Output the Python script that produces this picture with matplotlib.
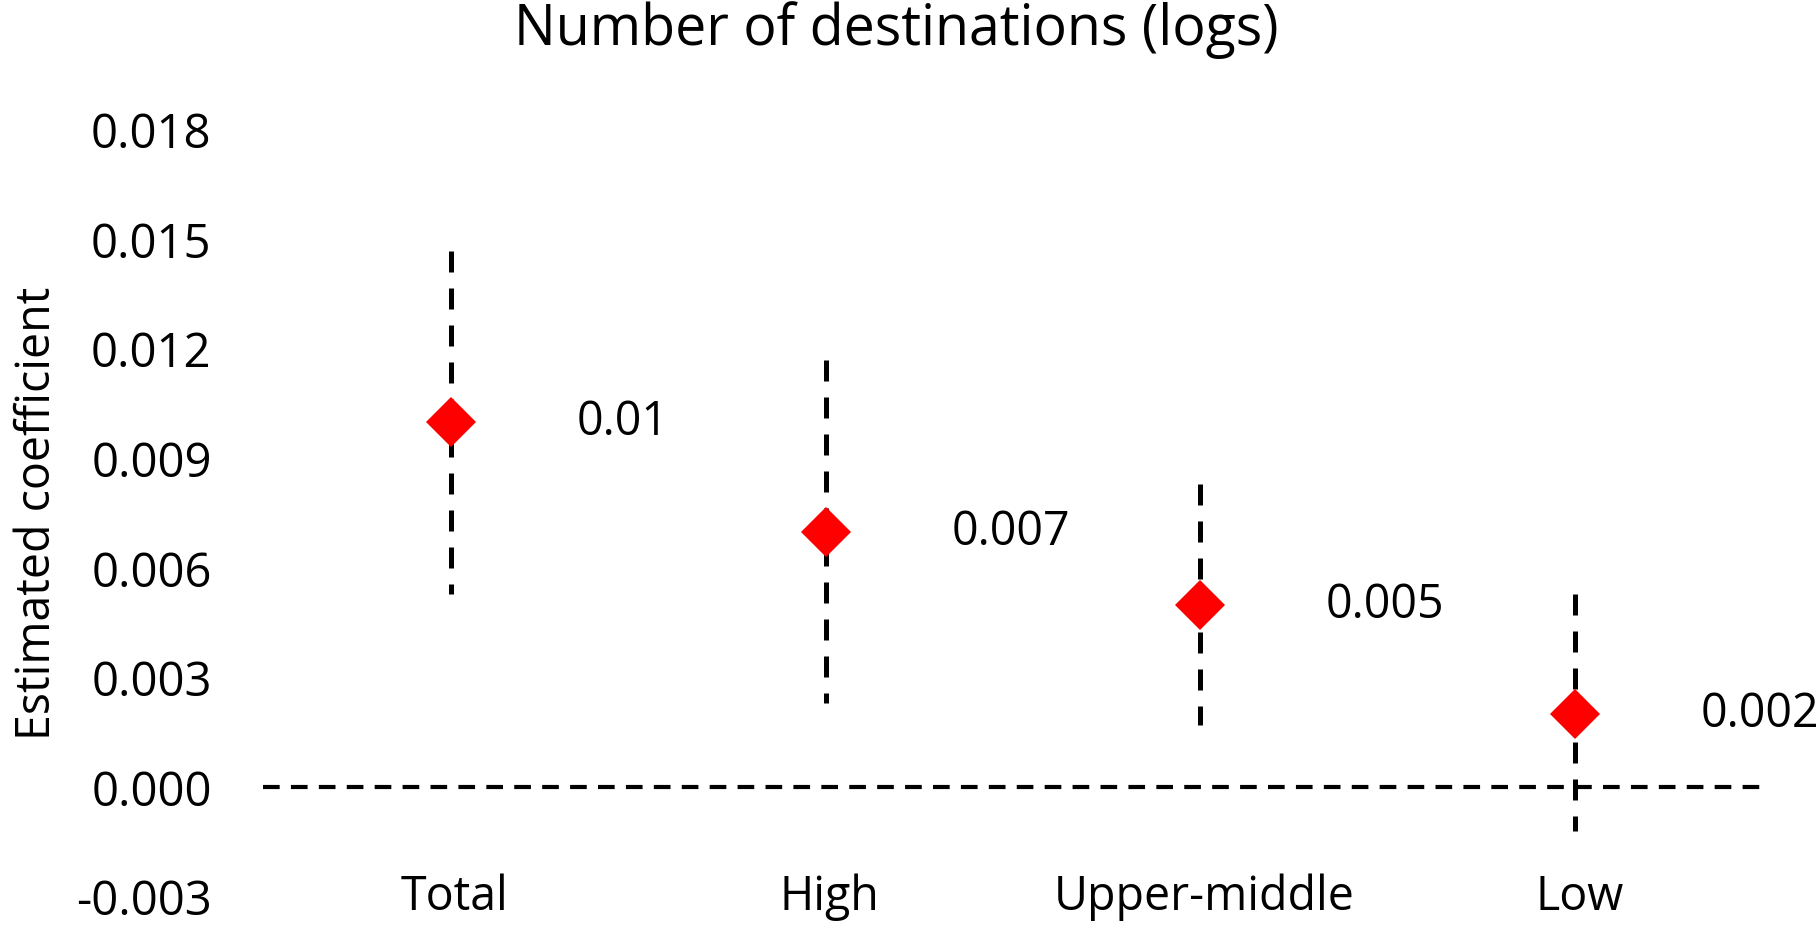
import matplotlib
matplotlib.use("Agg")
import matplotlib.pyplot as plt

# Regression estimates by income group
categories = ["Total", "High", "Upper-middle", "Low"]
coefficients = [0.010, 0.007, 0.005, 0.002]
ci_lower = [0.0053, 0.0023, 0.0017, -0.0012]
ci_upper = [0.0147, 0.0117, 0.0083, 0.0053]
value_labels = ["0.01", "0.007", "0.005", "0.002"]
y_ticks = [-0.003, 0.000, 0.003, 0.006, 0.009, 0.012, 0.015, 0.018]

plt.rcParams["font.family"] = ["Open Sans", "DejaVu Sans"]

fig = plt.figure(figsize=(18.19, 9.26), dpi=100)
ax = fig.add_axes([0.1446, 0.0313, 0.8246, 0.8283])

xs = list(range(len(categories)))

# zero reference line
ax.axhline(0, color="black", lw=3.0, dashes=(4.0, 2.7), zorder=1)

# confidence intervals as dashed vertical lines
for x, lo, hi in zip(xs, ci_lower, ci_upper):
    ax.plot([x, x], [hi, lo], color="black", lw=3.6, dashes=(4.2, 3.2),
            solid_capstyle="butt", dash_capstyle="butt", zorder=2)

# point estimates
ax.plot(xs, coefficients, linestyle="none", marker="D", ms=25.5,
        color="#ff0000", markeredgewidth=0, zorder=3)

for x, v, lab in zip(xs, coefficients, value_labels):
    ax.text(x + 0.335, v, lab, fontsize=33.5, ha="left", va="center")

for x, lab in zip(xs, categories):
    ax.text(x + 0.01, y_ticks[0], lab, fontsize=33.5, ha="center", va="center")

ax.set_xlim(-0.5, 3.5)
ax.set_ylim(y_ticks[0], y_ticks[-1])
ax.set_yticks(y_ticks)
ax.set_yticklabels([f"{t:.3f}" for t in y_ticks])
ax.set_xticks([])
ax.tick_params(axis="y", length=0, pad=37, labelsize=34)
for s in ax.spines.values():
    s.set_visible(False)

ax.set_ylabel("Estimated coefficient", fontsize=33.5)
ax.yaxis.set_label_coords(-0.135, 0.5)

fig.text(0.493, 0.967, "Number of destinations (logs)", fontsize=40,
         ha="center", va="center")

fig.savefig("out.png", dpi=100)
